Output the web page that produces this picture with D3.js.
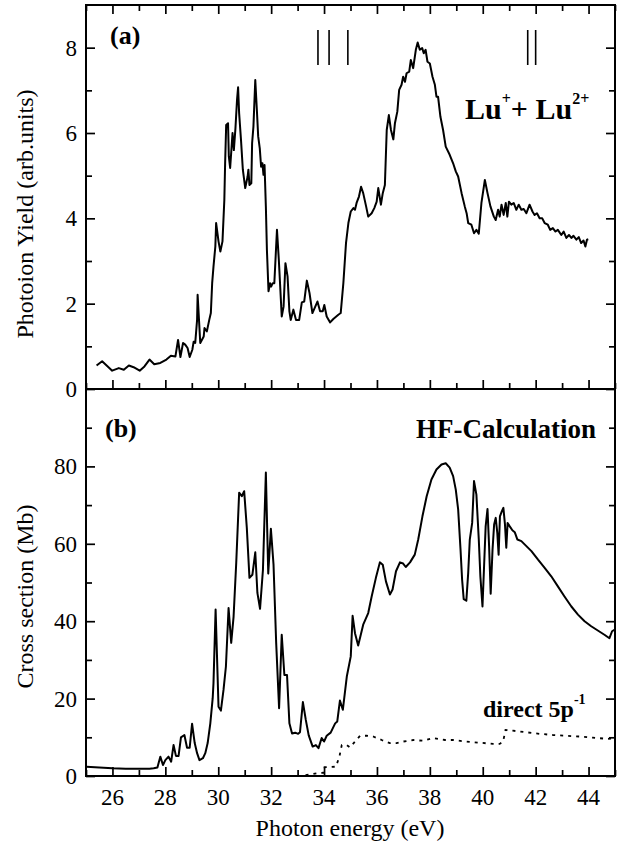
<!DOCTYPE html>
<meta charset="utf-8"/>
<head>
<style>
  body { margin:0; background:#fff; }
  text { font-family: "Liberation Serif", "Times New Roman", serif; fill:#000; }
  .bold { font-weight:bold; }
</style>
<script src="https://d3js.org/d3.v7.min.js" charset="utf-8"></script>
</head>
<body>
<script>

// panel (a): photoion yield, Lu+ + Lu2+
var energyA = [25.40,25.61,25.99,26.24,26.43,26.62,26.80,27.03,27.21,27.40,27.58,27.81,28.04,28.21,28.38,28.48,28.57,28.67,28.75,28.84,28.92,29.02,29.07,29.13,29.20,29.22,29.32,29.45,29.48,29.57,29.66,29.72,29.77,29.82,29.89,29.92,30.01,30.08,30.16,30.23,30.26,30.30,30.37,30.40,30.45,30.54,30.59,30.65,30.71,30.75,30.79,30.86,30.93,31.02,31.11,31.14,31.18,31.25,31.28,31.33,31.40,31.46,31.51,31.57,31.62,31.67,31.71,31.75,31.80,31.84,31.90,31.96,32.00,32.06,32.12,32.22,32.29,32.40,32.47,32.54,32.62,32.69,32.74,32.84,32.94,33.06,33.16,33.25,33.35,33.45,33.56,33.75,33.85,33.95,34.01,34.10,34.23,34.35,34.54,34.63,34.73,34.83,34.92,35.01,35.11,35.17,35.23,35.32,35.40,35.48,35.59,35.67,35.80,35.90,35.99,36.05,36.15,36.22,36.30,36.37,36.45,36.53,36.62,36.68,36.77,36.84,36.93,36.99,37.06,37.12,37.22,37.28,37.37,37.47,37.54,37.62,37.71,37.77,37.84,37.91,38.00,38.10,38.19,38.25,38.31,38.40,38.50,38.60,38.75,38.88,38.98,39.07,39.20,39.32,39.39,39.45,39.57,39.67,39.76,39.85,39.95,40.08,40.18,40.29,40.42,40.49,40.58,40.64,40.71,40.79,40.87,40.93,40.99,41.08,41.17,41.27,41.36,41.46,41.55,41.65,41.77,41.88,41.96,42.05,42.15,42.25,42.34,42.46,42.55,42.65,42.75,42.84,42.97,43.06,43.16,43.26,43.35,43.43,43.54,43.63,43.72,43.81,43.88,43.94,43.99];
var yieldA = [0.55,0.65,0.43,0.49,0.45,0.55,0.51,0.43,0.53,0.69,0.58,0.61,0.69,0.78,0.76,1.15,0.75,1.08,1.04,0.96,0.75,0.92,1.11,1.08,1.62,2.21,1.08,1.23,1.43,1.35,1.62,1.78,2.48,2.87,3.34,3.89,3.46,3.22,3.46,4.43,5.29,6.19,6.23,5.45,5.18,6.00,5.60,6.11,6.78,7.07,6.46,5.84,5.14,4.71,4.98,5.14,4.78,4.82,5.76,6.15,7.24,6.54,5.92,5.64,5.21,5.29,5.02,5.25,4.28,3.26,2.29,2.48,2.40,2.48,2.48,3.73,3.03,1.70,1.93,2.95,2.64,1.82,1.62,1.86,1.62,1.62,2.03,2.05,2.54,2.25,1.78,2.05,1.82,1.82,1.97,1.70,1.56,1.64,1.74,1.78,2.48,3.42,3.89,4.16,4.24,4.20,4.36,4.51,4.74,4.59,4.28,4.04,4.12,4.24,4.39,4.71,4.32,4.59,4.78,6.07,6.42,6.07,5.85,6.23,6.50,7.01,7.13,7.32,7.20,7.40,7.44,7.71,7.52,7.95,8.12,7.95,7.99,7.87,7.95,7.67,7.63,7.32,7.13,6.85,6.85,6.38,6.07,5.68,5.49,5.29,5.10,4.98,4.59,4.28,4.12,3.89,3.85,3.65,3.73,3.64,4.36,4.90,4.59,4.28,4.04,3.96,4.20,4.04,4.32,4.08,4.36,4.04,4.39,4.32,4.36,4.20,4.32,4.20,4.22,4.12,4.32,4.16,4.08,4.12,4.00,4.00,3.89,3.85,3.73,3.77,3.69,3.73,3.61,3.69,3.54,3.61,3.54,3.59,3.50,3.56,3.42,3.48,3.34,3.50,3.51];
var markerEnergies = [33.77, 34.19, 34.9, 41.7, 42.0];

// panel (b): HF calculation, total and direct 5p^-1
var energyB = [25.02,25.5,26.0,26.5,27.06,27.4,27.56,27.70,27.81,27.91,28.00,28.12,28.22,28.31,28.40,28.50,28.59,28.72,28.82,28.92,29.01,29.11,29.20,29.29,29.42,29.51,29.60,29.70,29.79,29.82,29.90,30.01,30.10,30.20,30.29,30.39,30.49,30.58,30.68,30.79,30.89,30.98,31.08,31.18,31.29,31.40,31.48,31.58,31.69,31.80,31.89,31.99,32.09,32.19,32.30,32.40,32.50,32.60,32.69,32.79,32.91,33.02,33.09,33.20,33.31,33.42,33.57,33.69,33.79,33.91,34.00,34.10,34.25,34.42,34.50,34.60,34.71,34.86,35.01,35.08,35.17,35.29,35.48,35.67,35.80,35.96,36.11,36.22,36.34,36.49,36.59,36.72,36.87,36.99,37.09,37.25,37.43,37.56,37.72,37.88,38.06,38.25,38.44,38.60,38.75,38.88,38.98,39.07,39.16,39.22,39.28,39.38,39.45,39.51,39.60,39.67,39.76,39.85,39.91,39.99,40.05,40.11,40.18,40.24,40.30,40.37,40.43,40.49,40.55,40.60,40.65,40.72,40.78,40.84,40.89,40.94,41.02,41.12,41.21,41.31,41.46,41.65,41.84,42.09,42.34,42.59,42.84,43.09,43.35,43.60,43.85,44.10,44.35,44.60,44.79,44.89,44.98];
var crossB = [2.4,2.2,2.0,1.9,1.9,1.9,2.0,2.2,5.0,2.85,4.1,5.0,3.7,8.0,5.2,5.2,10.0,10.6,7.3,7.3,13.5,8.5,5.9,4.1,4.6,5.9,8.5,13.6,20.1,24.0,43.0,17.9,16.9,22.3,28.3,43.4,34.4,41.2,55.1,73.2,72.3,73.6,64.1,51.2,52.0,57.8,47.3,43.2,53.3,78.4,52.3,63.9,54.6,34.4,17.5,36.5,26.1,26.1,13.6,11.0,11.2,10.9,11.3,19.1,14.5,10.5,7.6,8.0,7.2,9.8,8.9,10.4,11.2,13.6,14.1,19.5,17.1,25.7,30.9,41.4,36.9,33.7,39.1,42.1,46.4,51.2,55.2,54.6,50.3,46.9,48.2,52.9,55.2,54.9,54.0,55.2,57.2,61.1,67.1,72.3,76.6,79.2,80.5,80.8,79.7,77.5,74.0,68.9,58.5,50.7,45.7,45.3,52.5,61.1,65.4,76.2,72.7,61.1,51.6,43.8,54.2,64.5,69.0,59.4,47.1,58.5,65.0,66.7,62.8,57.2,67.1,68.4,69.3,65.0,59.0,65.4,64.5,63.5,63.0,61.1,60.7,59.4,58.1,55.9,53.8,51.6,49.0,46.4,43.8,41.7,40.0,38.7,37.6,36.5,35.6,37.4,37.8];
var energyD = [33.30,33.79,33.97,33.97,34.45,34.58,34.67,34.86,34.98,35.17,35.36,35.61,35.86,36.18,36.49,36.74,36.99,37.37,37.75,38.12,38.57,38.88,39.38,39.89,40.39,40.64,40.77,40.86,41.14,41.65,42.15,42.65,43.16,43.66,44.16,44.73,45.0];
var directD = [0.2,0.8,0.8,2.25,2.4,5.0,8.0,8.0,7.4,8.9,10.4,10.4,10.2,9.3,8.5,8.5,8.9,9.3,9.1,9.8,9.3,9.3,8.9,8.6,8.3,8.3,8.9,11.9,11.7,11.3,10.9,10.6,10.4,10.2,9.9,9.6,9.8];

var xTicks = [26, 28, 30, 32, 34, 36, 38, 40, 42, 44];
var yTicksA = [0, 2, 4, 6, 8];
var yTicksB = [0, 20, 40, 60, 80];

var width = 619, height = 854;
var plotL = 86, plotR = 615, plotT = 5, plotMid = 389, plotB = 776; // frame edges in px

var svg = d3.select("body").append("svg")
  .attr("width", width)
  .attr("height", height);

var x = d3.scaleLinear().domain([25, 45]).range([plotL, plotR]);
var yA = d3.scaleLinear().domain([0, 9]).range([plotMid, plotT]);
var yB = d3.scaleLinear().domain([0, 100]).range([plotB, plotMid]);

function zipper(xs, ys) { return xs.map(function(v, i){ return [v, ys[i]]; }); }

// inward ticks, no labels (labels drawn separately)
function tickAxis(axis, scale, major, minor, tf) {
  [[minor, 6], [major, 9]].forEach(function(p){
    var g = svg.append("g").attr("transform", tf)
      .call(axis(scale).tickValues(p[0]).tickSize(p[1]).tickFormat(""));
    g.select(".domain").remove();
    g.selectAll(".tick line").attr("stroke", "#000").attr("stroke-width", 1.7);
  });
}

var xMinor = [25, 27, 29, 31, 33, 35, 37, 39, 41, 43, 45];
tickAxis(d3.axisBottom, x, xTicks, xMinor, "translate(0," + plotT + ")");
tickAxis(d3.axisTop, x, xTicks, xMinor, "translate(0," + plotMid + ")");
tickAxis(d3.axisTop, x, xTicks, xMinor, "translate(0," + plotB + ")");

tickAxis(d3.axisRight, yA, yTicksA, [1, 3, 5, 7], "translate(" + plotL + ",0)");
tickAxis(d3.axisLeft, yA, yTicksA, [1, 3, 5, 7], "translate(" + plotR + ",0)");
tickAxis(d3.axisRight, yB, yTicksB, [10, 30, 50, 70, 90], "translate(" + plotL + ",0)");
tickAxis(d3.axisLeft, yB, yTicksB, [10, 30, 50, 70, 90], "translate(" + plotR + ",0)");

// tick labels
svg.append("g").selectAll("text").data(xTicks).enter().append("text")
  .attr("x", function(d){ return x(d); })
  .attr("y", 805)
  .attr("text-anchor", "middle")
  .style("font-size", "23px")
  .text(function(d){ return d; });

svg.append("g").selectAll("text").data(yTicksA).enter().append("text")
  .attr("x", 77)
  .attr("y", function(d){ return yA(d); })
  .attr("dy", "0.35em")
  .attr("text-anchor", "end")
  .style("font-size", "23px")
  .text(function(d){ return d; });

svg.append("g").selectAll("text").data(yTicksB).enter().append("text")
  .attr("x", 77)
  .attr("y", function(d){ return yB(d); })
  .attr("dy", "0.35em")
  .attr("text-anchor", "end")
  .style("font-size", "23px")
  .text(function(d){ return d; });

// frame
svg.append("rect")
  .attr("x", plotL).attr("y", plotT)
  .attr("width", plotR - plotL).attr("height", plotB - plotT)
  .attr("fill", "none").attr("stroke", "#000").attr("stroke-width", 2);
svg.append("line")
  .attr("x1", plotL).attr("x2", plotR).attr("y1", plotMid).attr("y2", plotMid)
  .attr("stroke", "#000").attr("stroke-width", 2);

// curves
var lineA = d3.line().x(function(d){ return x(d[0]); }).y(function(d){ return yA(d[1]); });
var lineB = d3.line().x(function(d){ return x(d[0]); }).y(function(d){ return yB(d[1]); });

svg.append("path")
  .datum(zipper(energyA, yieldA))
  .attr("d", lineA)
  .attr("fill", "none").attr("stroke", "#000").attr("stroke-width", 2)
  .attr("stroke-linejoin", "round");

svg.append("path")
  .datum(zipper(energyB, crossB))
  .attr("d", lineB)
  .attr("fill", "none").attr("stroke", "#000").attr("stroke-width", 2)
  .attr("stroke-linejoin", "round");

svg.append("path")
  .datum(zipper(energyD, directD))
  .attr("d", lineB)
  .attr("fill", "none").attr("stroke", "#000").attr("stroke-width", 1.8)
  .attr("stroke-dasharray", "3,5");

// threshold markers
svg.append("g").selectAll("line").data(markerEnergies).enter().append("line")
  .attr("x1", function(d){ return x(d); })
  .attr("x2", function(d){ return x(d); })
  .attr("y1", 30).attr("y2", 65)
  .attr("stroke", "#000").attr("stroke-width", 1.6);

// labels
svg.append("text").attr("class", "bold").attr("x", 110).attr("y", 44)
  .style("font-size", "26px").text("(a)");
svg.append("text").attr("class", "bold").attr("x", 105).attr("y", 437)
  .style("font-size", "26px").text("(b)");

var lu = svg.append("text").attr("class", "bold").attr("x", 465).attr("y", 119)
  .style("font-size", "30px");
lu.append("tspan").text("Lu");
lu.append("tspan").attr("dy", -15).style("font-size", "16px").text("+");
lu.append("tspan").attr("dy", 15).text("+ Lu");
lu.append("tspan").attr("dy", -15).style("font-size", "16px").text("2+");

svg.append("text").attr("class", "bold").attr("x", 596).attr("y", 438)
  .attr("text-anchor", "end")
  .style("font-size", "27px").text("HF-Calculation");

var dir = svg.append("text").attr("class", "bold").attr("x", 483).attr("y", 717)
  .style("font-size", "24px");
dir.append("tspan").text("direct 5p");
dir.append("tspan").attr("dy", -13).style("font-size", "14px").text("-1");

// axis titles
svg.append("text")
  .attr("transform", "translate(33," + ((plotT + plotMid) / 2 + 17) + ") rotate(-90)")
  .attr("text-anchor", "middle")
  .style("font-size", "24px")
  .text("Photoion Yield (arb.units)");
svg.append("text")
  .attr("transform", "translate(33," + ((plotMid + plotB) / 2 + 14) + ") rotate(-90)")
  .attr("text-anchor", "middle")
  .style("font-size", "24px")
  .text("Cross section (Mb)");
svg.append("text")
  .attr("x", 350).attr("y", 836)
  .attr("text-anchor", "middle")
  .style("font-size", "24px")
  .text("Photon energy (eV)");

</script>
</body>
</html>
